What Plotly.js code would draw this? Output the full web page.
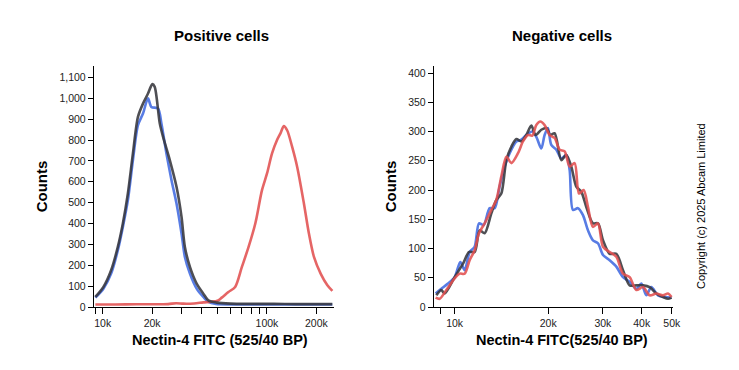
<!DOCTYPE html>
<html>
<head>
<meta charset="utf-8">
<script src="https://cdn.plot.ly/plotly-3.0.1.min.js"></script>
<style>html,body{margin:0;padding:0;background:#fff;}#chart{width:739px;height:370px;}</style>
</head>
<body>
<div id="chart"></div>
<script>
// ---- Positive cells (left panel) ----
const posBlueX = [9020, 10100, 11250, 12360, 13265, 14230, 15275, 16390, 17590, 18870, 19780, 21730, 22770, 24430, 26230, 28140, 30190, 31640, 33960, 37320, 40980, 43980, 49000, 60000, 80000, 110000, 150000, 200000, 250000];
const posBlueY = [45, 88, 160, 272, 384, 512, 704, 871, 927, 1000, 959, 951, 880, 736, 608, 496, 352, 240, 160, 88, 48, 24, 14, 12, 12, 12, 12, 12, 12];
const posGrayX = [9020, 10100, 11250, 12360, 13265, 14230, 15275, 16390, 17590, 18870, 20060, 20730, 22250, 23310, 25610, 28140, 30190, 31640, 33960, 37320, 40980, 43980, 49450, 60000, 80000, 110000, 150000, 200000, 250000];
const posGrayY = [48, 96, 176, 288, 400, 544, 736, 911, 975, 1023, 1068, 1055, 880, 815, 704, 576, 432, 288, 192, 112, 64, 32, 21, 16, 15, 15, 14, 14, 14];
const posRedX = [9020, 12000, 16000, 20000, 25000, 28000, 31000, 36000, 41000, 46000, 50000, 53070, 58290, 64050, 70370, 77290, 84930, 93280, 100100, 107400, 115200, 120800, 126600, 132700, 142400, 152800, 167900, 180100, 193300, 212300, 233300, 250300];
const posRedY = [12, 12, 13, 13, 14, 18, 16, 17, 22, 25, 30, 45, 72, 96, 192, 288, 400, 560, 640, 736, 800, 832, 867, 847, 767, 671, 496, 352, 240, 160, 104, 77];

// ---- Negative cells (right panel) ----
const negBlueX = [8685, 9060, 9517, 10000, 10429, 10769, 11175, 11598, 11977, 12399, 12963, 13452, 13960, 14488, 15035, 15796, 16392, 17010, 17783, 18316, 19006, 19480, 19967, 20469, 21242, 22045, 22877, 23452, 24037, 24945, 25885, 26863, 27868, 28926, 30024, 31547, 33143, 34823, 36586, 38445, 39897, 41400, 42954, 45140, 47430, 49900];
const negBlueY = [23, 31, 40, 51, 77, 63, 94, 103, 143, 140, 169, 169, 206, 240, 263, 283, 286, 294, 300, 291, 271, 294, 306, 277, 269, 254, 260, 234, 166, 169, 157, 131, 114, 109, 89, 80, 69, 51, 43, 31, 40, 20, 34, 20, 17, 16];
const negGrayX = [8730, 9060, 9285, 10000, 10637, 11120, 11598, 12036, 12490, 13123, 13618, 14132, 14669, 15222, 15796, 16392, 17010, 17651, 18225, 19006, 19724, 20316, 20979, 22045, 22877, 23740, 24634, 25565, 26532, 27868, 28926, 30024, 31547, 33143, 34823, 36586, 38445, 40387, 42440, 44584, 46840, 48620, 49900];
const negGrayY = [20, 29, 23, 51, 74, 94, 94, 131, 126, 160, 183, 194, 251, 274, 287, 283, 294, 310, 294, 303, 306, 294, 297, 251, 260, 240, 206, 197, 171, 143, 143, 114, 91, 91, 63, 37, 37, 37, 34, 23, 17, 14, 16];
const negRedX = [8685, 8950, 9400, 10000, 10378, 10769, 11175, 11598, 11977, 12490, 13123, 13618, 14132, 14669, 15222, 15993, 16596, 17223, 17783, 18316, 18866, 19480, 20217, 20979, 21777, 22600, 23452, 24334, 25130, 26012, 26863, 27868, 28926, 30024, 31547, 33143, 34823, 36586, 38445, 40387, 42440, 44584, 46840, 48620, 49900];
const negRedY = [16, 14, 29, 49, 57, 57, 80, 97, 126, 143, 166, 183, 223, 257, 246, 263, 283, 294, 293, 311, 317, 311, 294, 289, 269, 266, 240, 246, 194, 200, 171, 137, 143, 103, 94, 86, 57, 51, 29, 34, 20, 23, 20, 23, 17];

// ---- ticks ----
const posTickVals = [9000, 10000, 20000, 30000, 40000, 50000, 60000, 70000, 80000, 90000, 100000, 200000];
const posTickText = ['', '10k', '20k', '', '', '', '', '', '', '', '100k', '200k'];
const negTickVals = [9000, 10000, 20000, 30000, 40000, 50000];
const negTickText = ['', '10k', '20k', '30k', '40k', '50k'];
const posYTicks = [0, 100, 200, 300, 400, 500, 600, 700, 800, 900, 1000, 1100];
const negYTicks = [0, 50, 100, 150, 200, 250, 300, 350, 400];

const BLUE = 'rgba(70,110,225,0.9)';
const GRAY = 'rgba(55,55,60,0.88)';
const RED = 'rgba(225,80,80,0.88)';
const LW = 2.6;

function tr(x, y, color, xa, ya) {
  return {x: x, y: y, type: 'scatter', mode: 'lines', xaxis: xa, yaxis: ya,
    line: {color: color, width: LW, shape: 'spline', smoothing: 0.8}, hoverinfo: 'skip'};
}

const data = [
  tr(posBlueX, posBlueY, BLUE, 'x', 'y'),
  tr(posRedX, posRedY, RED, 'x', 'y'),
  tr(posGrayX, posGrayY, GRAY, 'x', 'y'),
  tr(negBlueX, negBlueY, BLUE, 'x2', 'y2'),
  tr(negGrayX, negGrayY, GRAY, 'x2', 'y2'),
  tr(negRedX, negRedY, RED, 'x2', 'y2')
];

const FAM = 'Liberation Sans, Arial, sans-serif';
const tickFont = {family: FAM, size: 10.5, color: '#222'};
const titleFont = {family: FAM, size: 15, color: '#000', weight: 'bold'};
const W = 739, H = 370;
const yDom = [1 - 307 / H, 1 - 66 / H];

function xAxis(dom, range, vals, text, anchor) {
  return {type: 'log', domain: dom, range: range, tickmode: 'array', tickvals: vals, ticktext: text,
    showline: true, linecolor: '#000', linewidth: 1.2, ticks: 'outside', ticklen: 6, tickcolor: '#000', tickwidth: 1,
    showgrid: false, zeroline: false, tickfont: tickFont, anchor: anchor};
}
function yAxis(range, vals, anchor) {
  return {domain: yDom, range: range, tickmode: 'array', tickvals: vals, tickformat: ',',
    showline: true, linecolor: '#000', linewidth: 1.2, ticks: 'outside', ticklen: 5, tickcolor: '#000', tickwidth: 1,
    showgrid: false, zeroline: false, tickfont: tickFont, anchor: anchor,
    title: {text: 'Counts', font: titleFont, standoff: 8}};
}

function note(text, px, py, size, extra) {
  return Object.assign({text: text, x: px / W, y: 1 - py / H, xref: 'paper', yref: 'paper', showarrow: false,
    font: {family: FAM, size: size, color: '#000', weight: 'bold'}, xanchor: 'center', yanchor: 'middle'}, extra || {});
}

const layout = {
  width: W, height: H,
  margin: {l: 0, r: 0, t: 0, b: 0},
  paper_bgcolor: '#fff', plot_bgcolor: '#fff',
  showlegend: false,
  xaxis: xAxis([94 / W, 334 / W], [Math.log10(8850), Math.log10(256000)], posTickVals, posTickText, 'y'),
  yaxis: yAxis([0, 1155], posYTicks, 'x'),
  xaxis2: xAxis([434 / W, 673 / W], [Math.log10(8580), Math.log10(50450)], negTickVals, negTickText, 'y2'),
  yaxis2: yAxis([0, 412], negYTicks, 'x2'),
  annotations: [
    note('Positive cells', 221, 35, 15),
    note('Negative cells', 562, 35, 15),
    note('Nectin-4 FITC (525/40 BP)', 220, 340, 14.5),
    note('Nectin-4 FITC(525/40 BP)', 562, 340, 14.5),
    note('Copyright (c) 2025 Abcam Limited', 701, 206, 11, {textangle: -90, font: {family: FAM, size: 11, color: '#000'}})
  ]
};

Plotly.newPlot('chart', data, layout, {staticPlot: true, displayModeBar: false});
</script>
</body>
</html>
